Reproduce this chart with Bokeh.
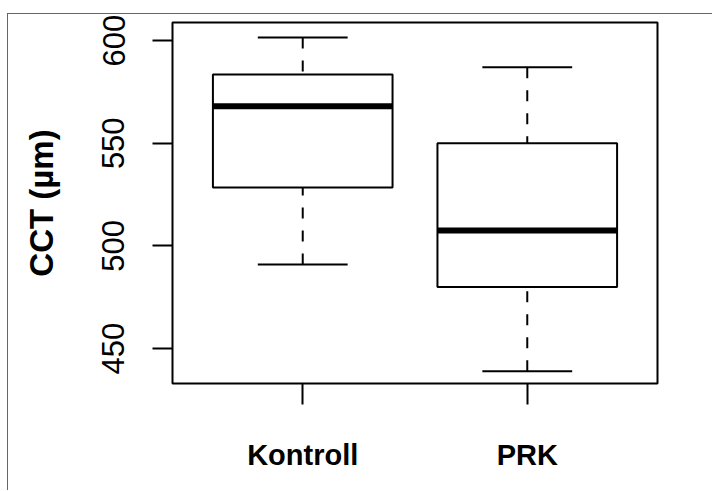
from bokeh.plotting import figure
from bokeh.models import Range1d, FixedTicker
from bokeh.embed import file_html
from bokeh.resources import INLINE

# ---- data ----
groups = ["Kontroll", "PRK"]
positions = [1, 2]
whisker_low = [491, 439]
q1 = [528.5, 480]
median = [568, 507.5]
q3 = [583.5, 550]
whisker_high = [601.5, 587]
y_ticks = [450, 500, 550, 600]

box_width = 0.8
cap_width = 0.4

FONT = "Liberation Sans"

p = figure(width=705, height=477, output_backend="svg", toolbar_location=None,
           x_range=Range1d(0.42, 2.58), y_range=Range1d(433.0, 608.8),
           min_border_left=164, min_border_right=56, min_border_top=8,
           min_border_bottom=108)
p.styles = {"margin-top": "13px", "margin-left": "7px",
            "border-top": "1px solid #666666", "border-left": "1px solid #666666"}

p.grid.visible = False
p.background_fill_color = "white"
p.border_fill_color = "white"
p.outline_line_color = "black"
p.outline_line_width = 2
p.outline_line_alpha = 1

# whiskers (dashed), drawn from whisker end to box
p.segment(x0=positions, y0=whisker_high, x1=positions, y1=q3,
          line_color="black", line_width=2, line_dash="11 12")
p.segment(x0=positions, y0=whisker_low, x1=positions, y1=q1,
          line_color="black", line_width=2, line_dash="11 12")
# caps
cap_l = [x - cap_width / 2 for x in positions]
cap_r = [x + cap_width / 2 for x in positions]
p.segment(x0=cap_l, y0=whisker_high, x1=cap_r, y1=whisker_high,
          line_color="black", line_width=2)
p.segment(x0=cap_l, y0=whisker_low, x1=cap_r, y1=whisker_low,
          line_color="black", line_width=2)
# boxes
p.vbar(x=positions, width=box_width, bottom=q1, top=q3,
       fill_color="white", line_color="black", line_width=2)
# medians
box_l = [x - box_width / 2 for x in positions]
box_r = [x + box_width / 2 for x in positions]
p.segment(x0=box_l, y0=median, x1=box_r, y1=median,
          line_color="black", line_width=6, line_cap="butt")

# x axis
xa = p.xaxis[0]
xa.ticker = FixedTicker(ticks=positions)
xa.major_label_overrides = {pos: g for pos, g in zip(positions, groups)}
xa.axis_line_color = None
xa.major_tick_out = 21
xa.major_tick_in = 0
xa.major_tick_line_width = 2
xa.major_tick_line_color = "black"
xa.minor_tick_line_color = None
xa.major_label_text_font = FONT
xa.major_label_text_font_style = "bold"
xa.major_label_text_font_size = "29px"
xa.major_label_text_color = "black"
xa.major_label_standoff = 34

# y axis
ya = p.yaxis[0]
ya.ticker = FixedTicker(ticks=y_ticks)
ya.axis_line_color = None
ya.major_tick_out = 20
ya.major_tick_in = 0
ya.major_tick_line_width = 2
ya.major_tick_line_color = "black"
ya.minor_tick_line_color = None
ya.major_label_orientation = "vertical"
ya.major_label_text_font = FONT
ya.major_label_text_font_size = "31px"
ya.major_label_text_color = "black"
ya.major_label_standoff = 28
ya.axis_label = "CCT (µm)"
ya.axis_label_text_font = FONT
ya.axis_label_text_font_style = "bold"
ya.axis_label_text_font_size = "33px"
ya.axis_label_text_color = "black"
ya.axis_label_standoff = 40

open("out.html", "w").write(file_html(p, INLINE))
